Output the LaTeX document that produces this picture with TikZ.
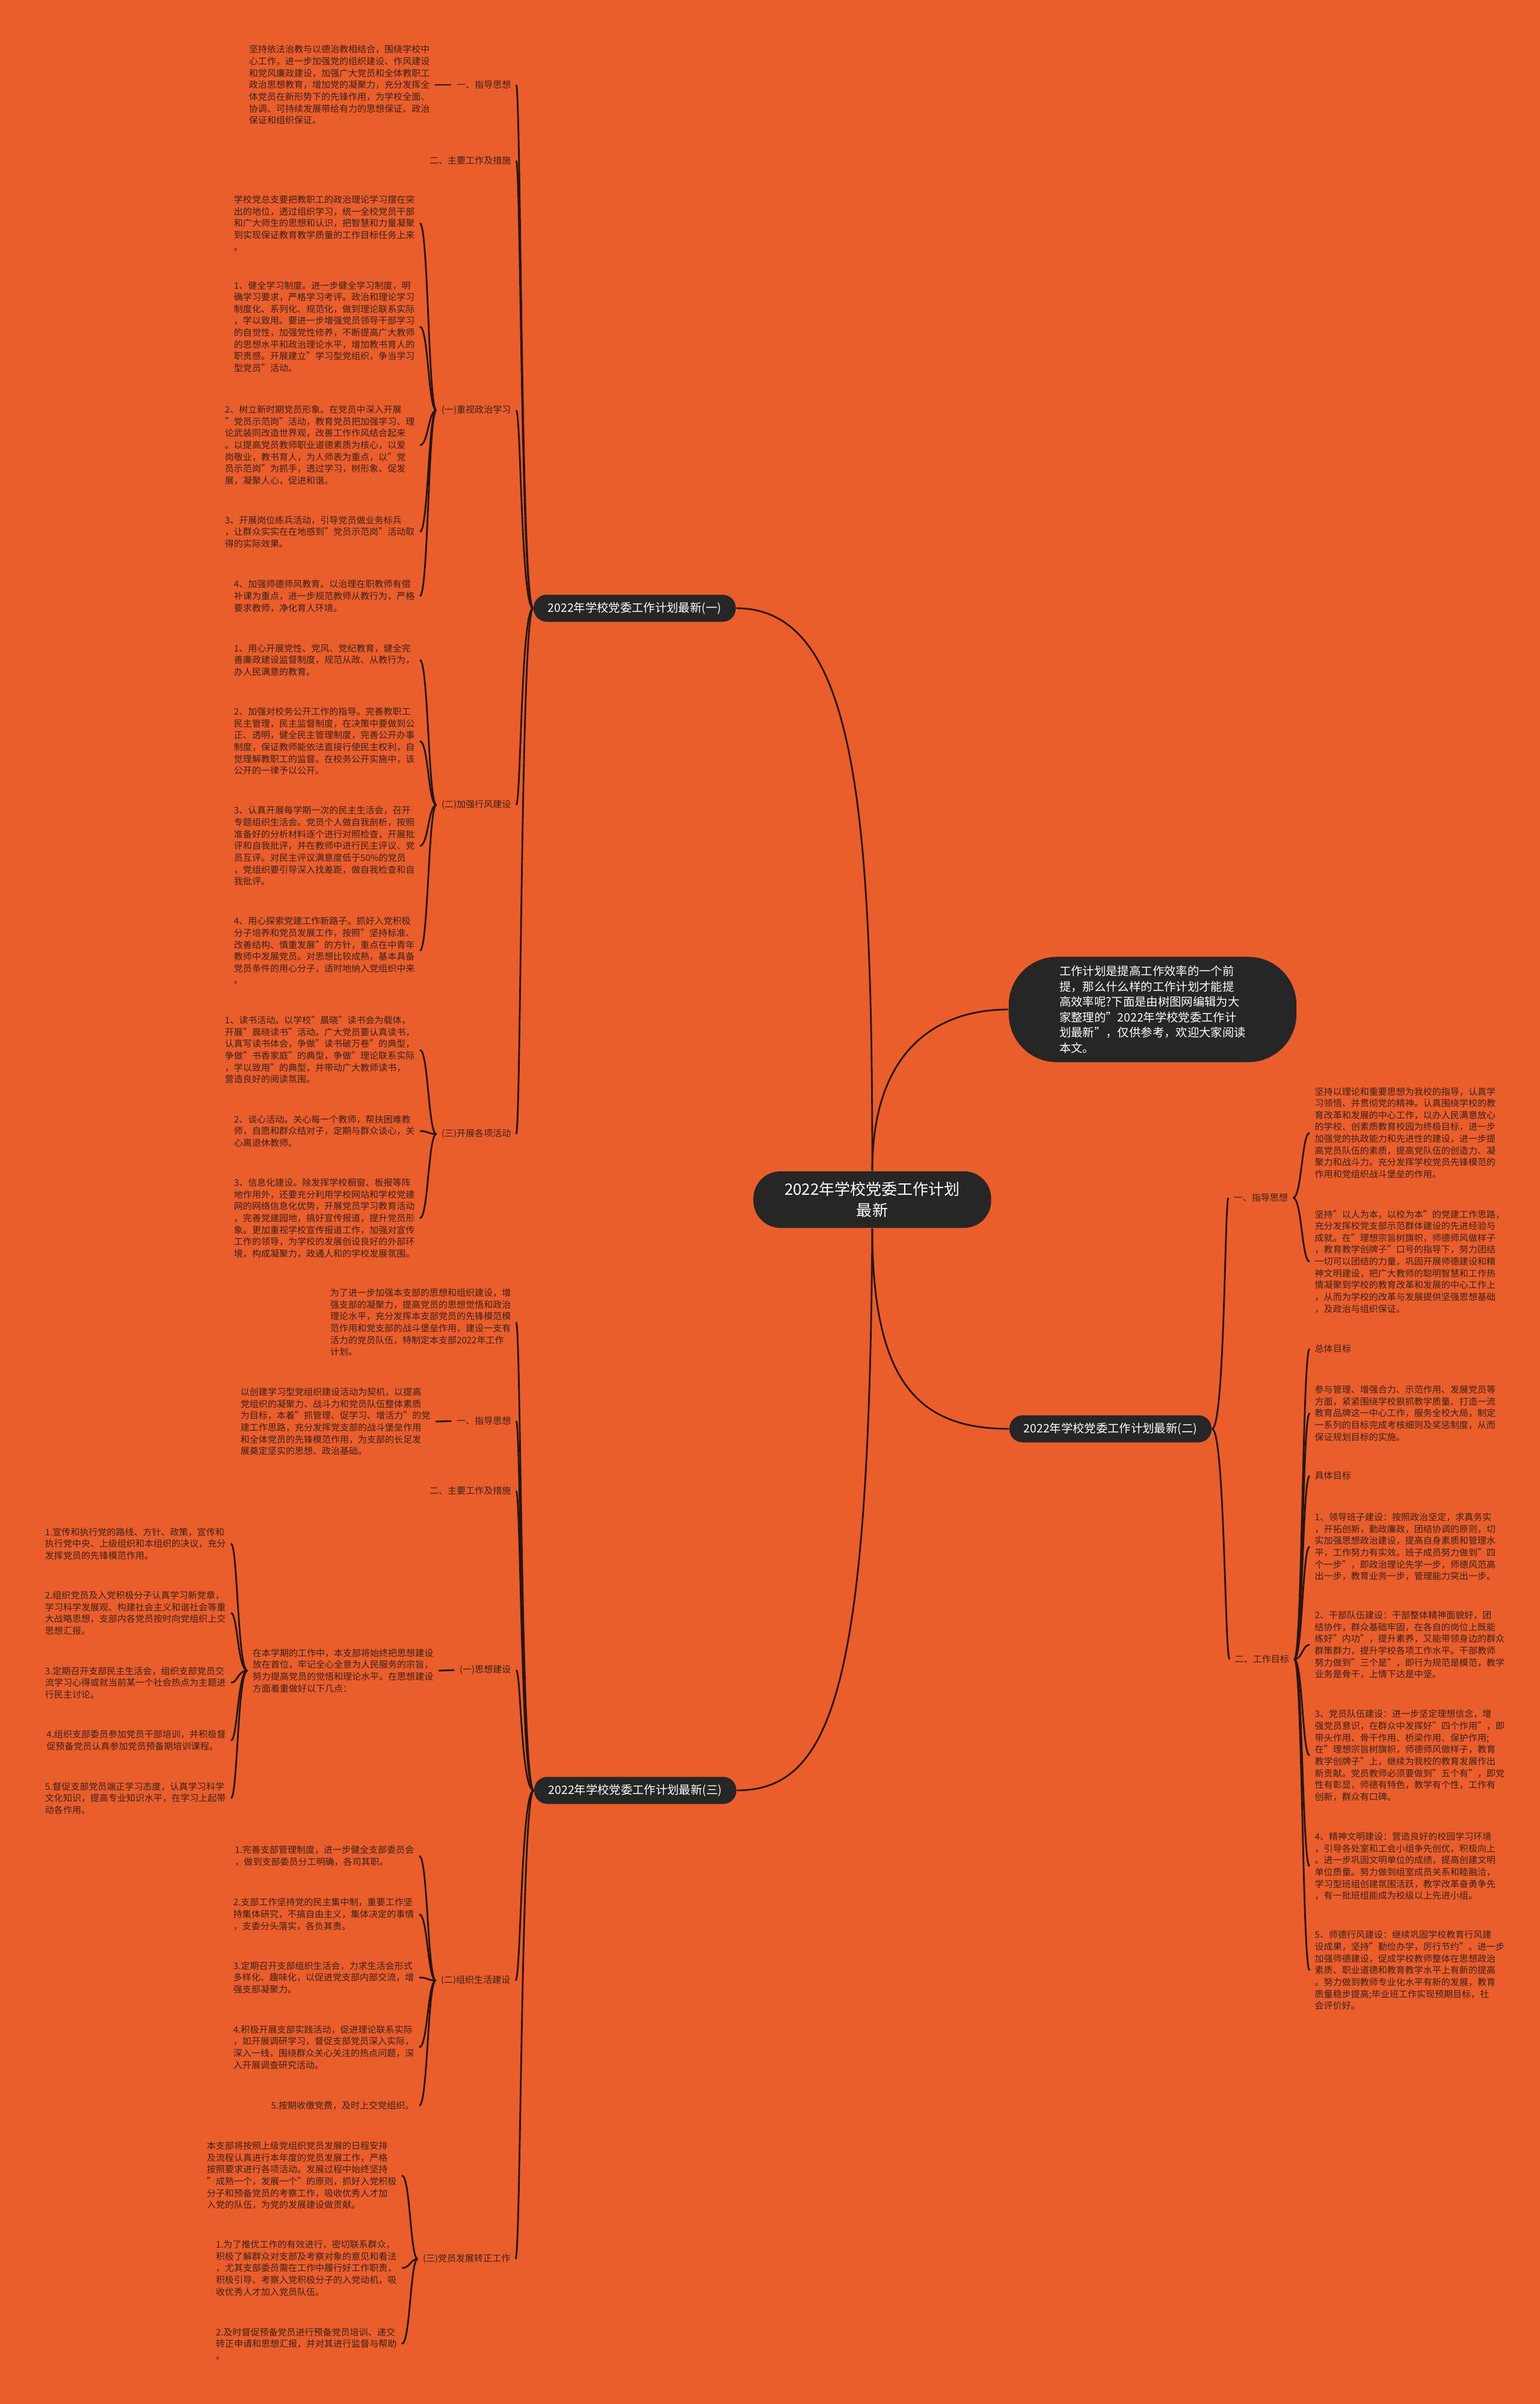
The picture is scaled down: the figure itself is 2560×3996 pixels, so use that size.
\documentclass[tikz,border=0pt]{standalone}
\usepackage{fontspec}
\setmainfont{Noto Sans CJK SC}
\definecolor{bg}{RGB}{233,94,43}
\definecolor{ink}{RGB}{58,33,22}
\definecolor{wire}{RGB}{38,22,14}
\definecolor{dark}{RGB}{38,38,38}
\newcommand\mmlink[3]{\draw[link] (#1) .. controls (#1 -| #3) and (#2 -| #3) .. (#2);}
\begin{document}
\begin{tikzpicture}[x=0.01cm,y=-0.01cm,
  body/.style={font=\fontsize{4.27pt}{5.58pt}\selectfont,text=ink,align=left,inner xsep=0.08cm,inner ysep=0.02cm},
  lab/.style={font=\fontsize{4.27pt}{5.58pt}\selectfont,text=ink,inner xsep=0.08cm,inner ysep=0.02cm},
  branch/.style={fill=dark,text=white,rounded corners=0.22cm,minimum width=3.36cm,minimum height=0.45cm,inner sep=0pt,font=\fontsize{5.5pt}{7pt}\selectfont},
  rootbox/.style={fill=dark,text=white,rounded corners=0.45cm,minimum width=3.95cm,minimum height=0.94cm,inner sep=0pt,align=center,font=\fontsize{7.4pt}{9.96pt}\selectfont},
  introbox/.style={fill=dark,text=white,rounded corners=0.8cm,minimum width=4.78cm,minimum height=1.75cm,inner sep=0pt,align=left,font=\fontsize{5.5pt}{7.28pt}\selectfont},
  link/.style={draw=wire,line width=0.8pt}]
\fill[bg] (0,0) rectangle (2560,3996);
\useasboundingbox (0,0) rectangle (2560,3996);

% trunk / bracket x positions
\coordinate (k1) at (866,0);
\coordinate (k3) at (866,0);
\coordinate (k2) at (2036,0);
\coordinate (ka) at (712,0);
\coordinate (kd) at (395,0);
\coordinate (ke) at (711,0);
\coordinate (kf) at (682,0);
\coordinate (kg) at (2164,0);
\coordinate (kh) at (2165,0);

% main nodes
\node[rootbox] (root) at (1450,1994) {2022年学校党委工作计划\\最新};
\node[introbox] (intro) at (1916,1678) {工作计划是提高工作效率的一个前\\提，那么什么样的工作计划才能提\\高效率呢?下面是由树图网编辑为大\\家整理的"2022年学校党委工作计\\划最新"，仅供参考，欢迎大家阅读\\本文。};
\node[branch] (b1) at (1055,1011) {2022年学校党委工作计划最新(一)};
\node[branch] (b2) at (1846,2375) {2022年学校党委工作计划最新(二)};
\node[branch] (b3) at (1056,2976) {2022年学校党委工作计划最新(三)};

\draw[link] (root.north) .. controls +(0,-600) and +(200,0) .. (b1.east);
\draw[link] (root.north) .. controls +(0,-200) and +(-120,0) .. (intro.west);
\draw[link] (root.south) .. controls +(0,259) and +(-148,0) .. (b2.west);
\draw[link] (root.south) .. controls +(-5,759) and +(160,0) .. (b3.east);

% ===== branch 1 =====
\node[lab,anchor=east] (l1a) at (858,141) {一、指导思想};
\node[lab,anchor=east] (l1b) at (858,267) {二、主要工作及措施};
\node[lab,anchor=east] (l1c) at (858,682) {(一)重视政治学习};
\node[lab,anchor=east] (l1d) at (858,1338) {(二)加强行风建设};
\node[lab,anchor=east] (l1e) at (858,1885) {(三)开展各项活动};
\foreach \n in {l1a,l1b,l1c,l1d,l1e} {\mmlink{b1.west}{\n.east}{k1}}

\node[body,anchor=east] (a1) at (723,141) {坚持依法治教与以德治教相结合，围绕学校中\\心工作，进一步加强党的组织建设、作风建设\\和党风廉政建设，加强广大党员和全体教职工\\政治思想教育，增加党的凝聚力，充分发挥全\\体党员在新形势下的先锋作用，为学校全面、\\协调、可持续发展带给有力的思想保证、政治\\保证和组织保证。};
\draw[link] (l1a.west) -- (a1.east);

\node[body,anchor=east] (t1) at (698,371) {学校党总支要把教职工的政治理论学习摆在突\\出的地位，透过组织学习，统一全校党员干部\\和广大师生的思想和认识，把智慧和力量凝聚\\到实现保证教育教学质量的工作目标任务上来\\。};
\node[body,anchor=east] (t2) at (698,543) {1、健全学习制度。进一步健全学习制度，明\\确学习要求，严格学习考评。政治和理论学习\\制度化、系列化、规范化，做到理论联系实际\\，学以致用。要进一步增强党员领导干部学习\\的自觉性，加强党性修养，不断提高广大教师\\的思想水平和政治理论水平，增加教书育人的\\职责感。开展建立"学习型党组织，争当学习\\型党员"活动。};
\node[body,anchor=east] (t3) at (698,740) {2、树立新时期党员形象。在党员中深入开展\\"党员示范岗"活动，教育党员把加强学习、理\\论武装同改造世界观，改善工作作风结合起来\\。以提高党员教师职业道德素质为核心，以爱\\岗敬业，教书育人，为人师表为重点，以"党\\员示范岗"为抓手，透过学习，树形象、促发\\展，凝聚人心，促进和谐。};
\node[body,anchor=east] (t4) at (698,884) {3、开展岗位练兵活动，引导党员做业务标兵\\，让群众实实在在地感到"党员示范岗"活动取\\得的实际效果。};
\node[body,anchor=east] (t5) at (698,991) {4、加强师德师风教育。以治理在职教师有偿\\补课为重点，进一步规范教师从教行为，严格\\要求教师，净化育人环境。};
\foreach \n in {t1,t2,t3,t4,t5} {\mmlink{l1c.west}{\n.east}{ka}}

\node[body,anchor=east] (u1) at (698,1097) {1、用心开展党性、党风、党纪教育，健全完\\善廉政建设监督制度，规范从政、从教行为，\\办人民满意的教育。};
\node[body,anchor=east] (u2) at (698,1232) {2、加强对校务公开工作的指导。完善教职工\\民主管理，民主监督制度，在决策中要做到公\\正、透明，健全民主管理制度，完善公开办事\\制度，保证教师能依法直接行使民主权利，自\\觉理解教职工的监督。在校务公开实施中，该\\公开的一律予以公开。};
\node[body,anchor=east] (u3) at (698,1406) {3、认真开展每学期一次的民主生活会，召开\\专题组织生活会。党员个人做自我剖析，按照\\准备好的分析材料逐个进行对照检查，开展批\\评和自我批评，并在教师中进行民主评议、党\\员互评。对民主评议满意度低于50\%的党员\\，党组织要引导深入找差距，做自我检查和自\\我批评。};
\node[body,anchor=east] (u4) at (698,1580) {4、用心探索党建工作新路子。抓好入党积极\\分子培养和党员发展工作，按照"坚持标准、\\改善结构、慎重发展"的方针，重点在中青年\\教师中发展党员。对思想比较成熟，基本具备\\党员条件的用心分子，适时地纳入党组织中来\\。};
\foreach \n in {u1,u2,u3,u4} {\mmlink{l1d.west}{\n.east}{ka}}

\node[body,anchor=east] (v1) at (698,1745) {1、读书活动。以学校"晨晓"读书会为载体，\\开展"晨晓读书"活动。广大党员要认真读书，\\认真写读书体会，争做"读书破万卷"的典型，\\争做"书香家庭"的典型，争做"理论联系实际\\，学以致用"的典型，并带动广大教师读书，\\营造良好的阅读氛围。};
\node[body,anchor=east] (v2) at (698,1880) {2、谈心活动。关心每一个教师，帮扶困难教\\师，自愿和群众结对子，定期与群众谈心，关\\心离退休教师。};
\node[body,anchor=east] (v3) at (698,2025) {3、信息化建设。除发挥学校橱窗、板报等阵\\地作用外，还要充分利用学校网站和学校党建\\网的网络信息化优势，开展党员学习教育活动\\，完善党建园地，搞好宣传报道，提升党员形\\象。更加重视学校宣传报道工作，加强对宣传\\工作的领导，为学校的发展创设良好的外部环\\境，构成凝聚力，政通人和的学校发展氛围。};
\foreach \n in {v1,v2,v3} {\mmlink{l1e.west}{\n.east}{ka}}

% ===== branch 3 =====
\node[body,anchor=east] (w0) at (858,2198) {为了进一步加强本支部的思想和组织建设，增\\强支部的凝聚力，提高党员的思想觉悟和政治\\理论水平，充分发挥本支部党员的先锋模范模\\范作用和党支部的战斗堡垒作用，建设一支有\\活力的党员队伍，特制定本支部2022年工作\\计划。};
\node[lab,anchor=east] (l3a) at (858,2362) {一、指导思想};
\node[lab,anchor=east] (l3b) at (858,2478) {二、主要工作及措施};
\node[lab,anchor=east] (l3c) at (858,2776) {(一)思想建设};
\node[lab,anchor=east] (l3d) at (857,3292) {(二)组织生活建设};
\node[lab,anchor=east] (l3e) at (857,3755) {(三)党员发展转正工作};
\foreach \n in {w0,l3a,l3b,l3c,l3d,l3e} {\mmlink{b3.west}{\n.east}{k3}}

\node[body,anchor=east] (w1) at (724,2363) {以创建学习型党组织建设活动为契机，以提高\\党组织的凝聚力、战斗力和党员队伍整体素质\\为目标，本着"抓管理、促学习、增活力"的党\\建工作思路，充分发挥党支部的战斗堡垒作用\\和全体党员的先锋模范作用，为支部的长足发\\展奠定坚实的思想、政治基础。};
\draw[link] (l3a.west) -- (w1.east);

\node[body,anchor=east] (m) at (729,2777) {在本学期的工作中，本支部将始终把思想建设\\放在首位，牢记全心全意为人民服务的宗旨，\\努力提高党员的觉悟和理论水平。在思想建设\\方面着重做好以下几点：};
\draw[link] (l3c.west) -- (m.east);

\node[body,anchor=east] (x1) at (384,2566) {1.宣传和执行党的路线、方针、政策，宣传和\\执行党中央、上级组织和本组织的决议，充分\\发挥党员的先锋模范作用。};
\node[body,anchor=east] (x2) at (384,2681) {2.组织党员及入党积极分子认真学习新党章，\\学习科学发展观、构建社会主义和谐社会等重\\大战略思想，支部内各党员按时向党组织上交\\思想汇报。};
\node[body,anchor=east] (x3) at (384,2797) {3.定期召开支部民主生活会，组织支部党员交\\流学习心得或就当前某一个社会热点为主题进\\行民主讨论。};
\node[body,anchor=east] (x4) at (384,2893) {4.组织支部委员参加党员干部培训，并积极督\\促预备党员认真参加党员预备期培训课程。};
\node[body,anchor=east] (x5) at (384,2989) {5.督促支部党员端正学习态度，认真学习科学\\文化知识，提高专业知识水平，在学习上起带\\动各作用。};
\foreach \n in {x1,x2,x3,x4,x5} {\mmlink{m.west}{\n.east}{kd}}

\node[body,anchor=east] (y1) at (697,3085) {1.完善支部管理制度，进一步健全支部委员会\\，做到支部委员分工明确，各司其职。};
\node[body,anchor=east] (y2) at (697,3182) {2.支部工作坚持党的民主集中制，重要工作坚\\持集体研究，不搞自由主义，集体决定的事情\\，支委分头落实，各负其责。};
\node[body,anchor=east] (y3) at (697,3287) {3.定期召开支部组织生活会，力求生活会形式\\多样化、趣味化，以促进党支部内部交流，增\\强支部凝聚力。};
\node[body,anchor=east] (y4) at (697,3403) {4.积极开展支部实践活动，促进理论联系实际\\，如开展调研学习，督促支部党员深入实际，\\深入一线，围绕群众关心关注的热点问题，深\\入开展调查研究活动。};
\node[body,anchor=east] (y5) at (697,3500) {5.按期收缴党费，及时上交党组织。};
\foreach \n in {y1,y2,y3,y4,y5} {\mmlink{l3d.west}{\n.east}{ke}}

\node[body,anchor=east] (z1) at (668,3616) {本支部将按照上级党组织党员发展的日程安排\\及流程认真进行本年度的党员发展工作，严格\\按照要求进行各项活动。发展过程中始终坚持\\"成熟一个，发展一个"的原则，抓好入党积极\\分子和预备党员的考察工作，吸收优秀人才加\\入党的队伍，为党的发展建设做贡献。};
\node[body,anchor=east] (z2) at (668,3770) {1.为了推优工作的有效进行，密切联系群众，\\积极了解群众对支部及考察对象的意见和看法\\，尤其支部委员需在工作中履行好工作职责，\\积极引导、考察入党积极分子的入党动机，吸\\收优秀人才加入党员队伍。};
\node[body,anchor=east] (z3) at (668,3896) {2.及时督促预备党员进行预备党员培训、递交\\转正申请和思想汇报，并对其进行监督与帮助\\。};
\foreach \n in {z1,z2,z3} {\mmlink{l3e.west}{\n.east}{kf}}

% ===== branch 2 =====
\node[lab,anchor=west] (rl1) at (2042,1991) {一、指导思想};
\node[lab,anchor=west] (rl2) at (2044,2758) {二、工作目标};
\foreach \n in {rl1,rl2} {\mmlink{b2.east}{\n.west}{k2}}

\node[body,anchor=west] (r1) at (2177,1883) {坚持以理论和重要思想为我校的指导，认真学\\习领悟、并贯彻党的精神。认真围绕学校的教\\育改革和发展的中心工作，以办人民满意放心\\的学校、创素质教育校园为终极目标，进一步\\加强党的执政能力和先进性的建设，进一步提\\高党员队伍的素质，提高党队伍的创造力、凝\\聚力和战斗力。充分发挥学校党员先锋模范的\\作用和党组织战斗堡垒的作用。};
\node[body,anchor=west] (r2) at (2177,2097) {坚持"以人为本，以校为本"的党建工作思路，\\充分发挥校党支部示范群体建设的先进经验与\\成就。在"理想宗旨树旗帜，师德师风做样子\\，教育教学创牌子"口号的指导下，努力团结\\一切可以团结的力量，巩固开展师德建设和精\\神文明建设，把广大教师的聪明智慧和工作热\\情凝聚到学校的教育改革和发展的中心工作上\\，从而为学校的改革与发展提供坚强思想基础\\，及政治与组织保证。};
\foreach \n in {r1,r2} {\mmlink{rl1.east}{\n.west}{kg}}

\node[lab,anchor=west] (g1) at (2177,2242) {总体目标};
\node[body,anchor=west] (g2) at (2177,2349) {参与管理、增强合力、示范作用、发展党员等\\方面，紧紧围绕学校狠抓教学质量、打造一流\\教育品牌这一中心工作，服务全校大局，制定\\一系列的目标完成考核细则及奖惩制度，从而\\保证规划目标的实施。};
\node[lab,anchor=west] (g3) at (2177,2453) {具体目标};
\node[body,anchor=west] (g4) at (2177,2571) {1、领导班子建设：按照政治坚定，求真务实\\，开拓创新，勤政廉政，团结协调的原则，切\\实加强思想政治建设，提高自身素质和管理水\\平，工作努力有实效。班子成员努力做到"四\\个一步"，即政治理论先学一步，师德风范高\\出一步，教育业务一步，管理能力突出一步。};
\node[body,anchor=west] (g5) at (2177,2734) {2、干部队伍建设：干部整体精神面貌好，团\\结协作，群众基础牢固，在各自的岗位上既能\\练好"内功"，提升素养，又能带领身边的群众\\群策群力，提升学校各项工作水平。干部教师\\努力做到"三个是"，即行为规范是模范，教学\\业务是骨干，上情下达是中坚。};
\node[body,anchor=west] (g6) at (2177,2918) {3、党员队伍建设：进一步坚定理想信念，增\\强党员意识，在群众中发挥好"四个作用"，即\\带头作用、骨干作用、桥梁作用、保护作用;\\在"理想宗旨树旗帜，师德师风做样子，教育\\教学创牌子"上，继续为我校的教育发展作出\\新贡献。党员教师必须要做到"五个有"，即党\\性有彰显，师德有特色，教学有个性，工作有\\创新，群众有口碑。};
\node[body,anchor=west] (g7) at (2177,3102) {4、精神文明建设：营造良好的校园学习环境\\，引导各处室和工会小组争先创优，积极向上\\。进一步巩固文明单位的成绩，提高创建文明\\单位质量。努力做到组室成员关系和睦融洽，\\学习型班组创建氛围活跃，教学改革奋勇争先\\，有一批班组能成为校级以上先进小组。};
\node[body,anchor=west] (g8) at (2177,3275) {5、师德行风建设：继续巩固学校教育行风建\\设成果，坚持"勤俭办学，厉行节约"。进一步\\加强师德建设，促成学校教师整体在思想政治\\素质、职业道德和教育教学水平上有新的提高\\。努力做到教师专业化水平有新的发展，教育\\质量稳步提高;毕业班工作实现预期目标，社\\会评价好。};
\foreach \n in {g1,g2,g3,g4,g5,g6,g7,g8} {\mmlink{rl2.east}{\n.west}{kh}}
\end{tikzpicture}
\end{document}
